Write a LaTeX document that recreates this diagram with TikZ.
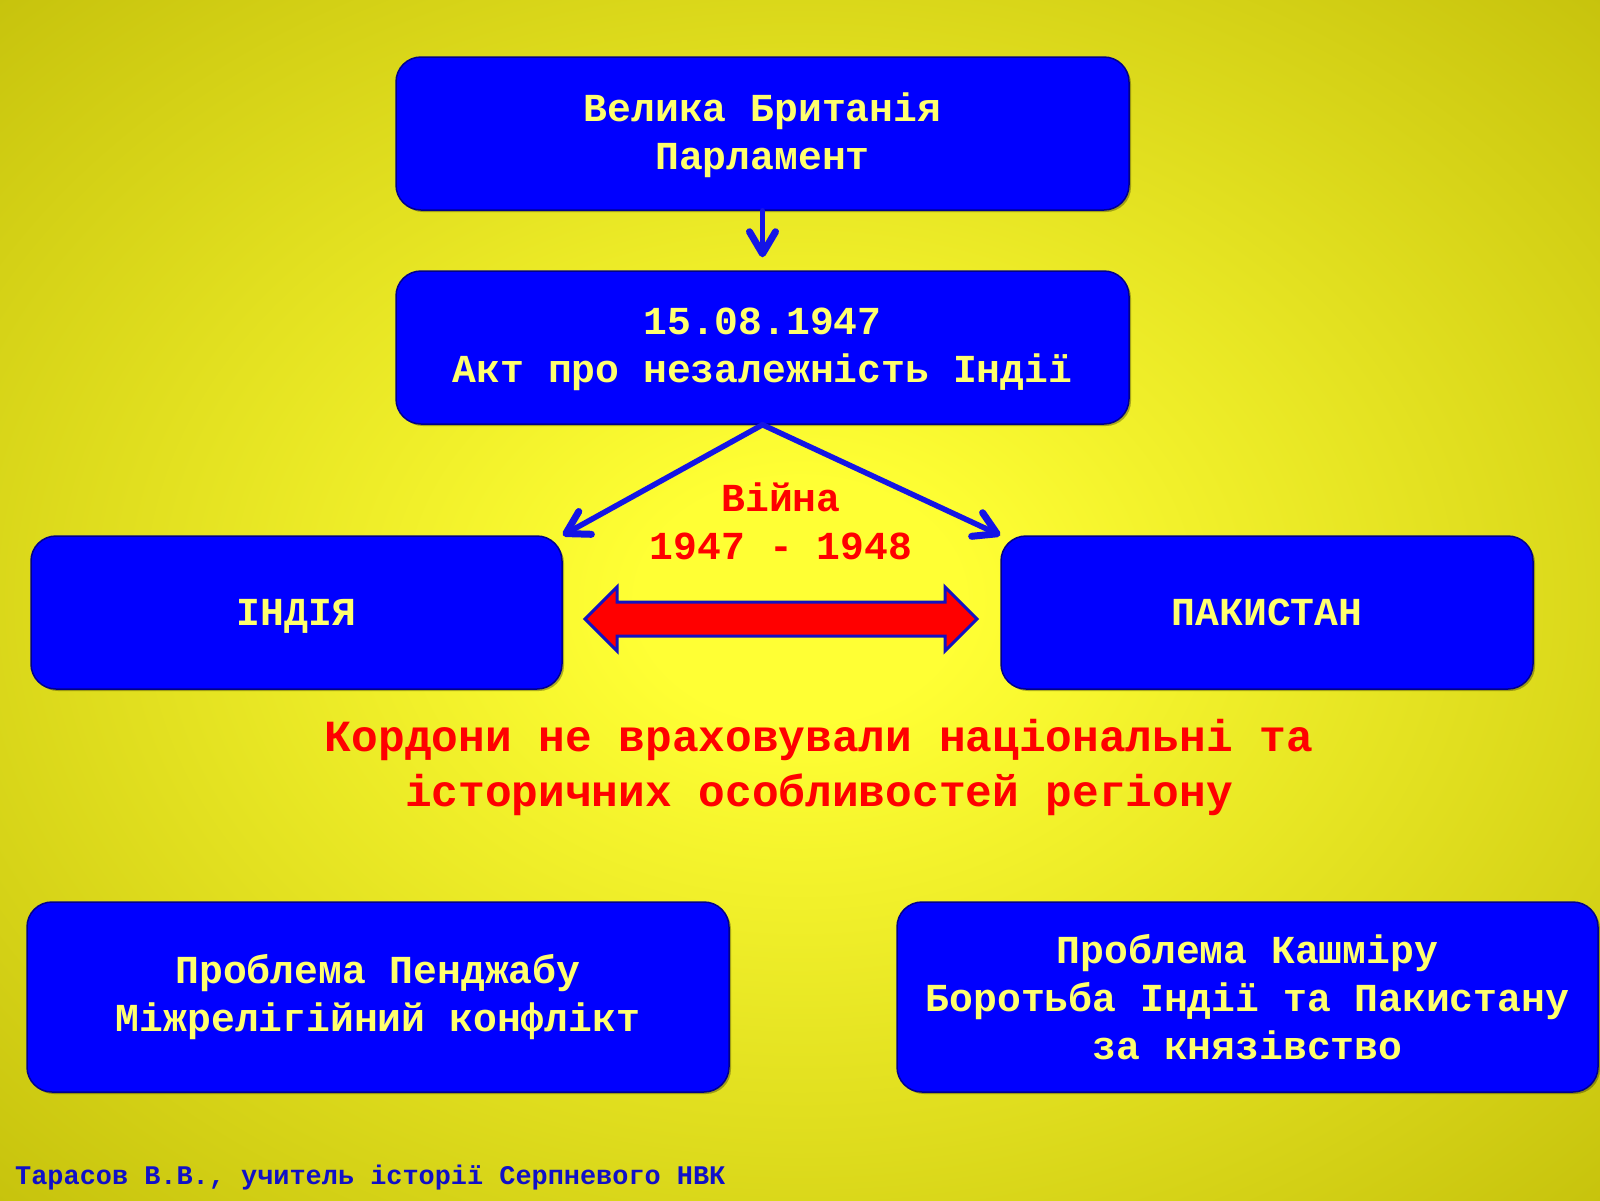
\documentclass[tikz,border=0pt]{standalone}
\usepackage{fontspec}
\setmainfont{Liberation Mono}
\usetikzlibrary{arrows.meta,shadows}
\definecolor{bgin}{RGB}{255,255,52}
\definecolor{bgout}{RGB}{198,194,12}
\definecolor{boxblue}{RGB}{0,0,255}
\definecolor{boxedge}{RGB}{0,0,140}
\definecolor{txtyellow}{RGB}{255,255,110}
\definecolor{connblue}{RGB}{20,20,230}
\definecolor{warred}{RGB}{255,0,0}
\definecolor{footblue}{RGB}{16,16,200}
\pgfdeclareradialshading{bgshade}{\pgfpoint{0bp}{0bp}}{color(0bp)=(bgin); color(5bp)=(bgin); color(36bp)=(bgout); color(50bp)=(bgout)}
\newcommand\boxfont{\fontsize{39.7}{48}\selectfont\bfseries}
\newcommand\redfont{\fontsize{44.5}{55}\selectfont\bfseries}
\newcommand\footfont{\fontsize{26.9}{30}\selectfont\bfseries}
\tikzset{
  bluebox/.style={draw=boxedge, line width=1.5pt, fill=boxblue, rounded corners=25pt,
    text=txtyellow, font=\boxfont, align=center, inner sep=0pt,
    drop shadow={shadow xshift=2pt, shadow yshift=-2pt, opacity=0.3, fill=black}},
  conn/.style={draw=connblue, line width=5.5pt, line cap=round,
    -{Straight Barb[length=22pt,width=26pt,line width=7pt,line cap=round,line join=round]}},
  redtext/.style={text=warred, font=\redfont, align=center, inner sep=0pt},
}
\begin{document}
\begin{tikzpicture}[x=1pt,y=-1pt]
\useasboundingbox (0,0) rectangle (1600,1200);
\shade[shading=bgshade] (0,0) rectangle (1600,1200);

\node[bluebox, minimum width=733pt, minimum height=153pt] (gb) at (762.5,133.5) {};
\node[text=txtyellow, font=\boxfont, align=center, inner sep=0pt] at ([yshift=-2pt]gb.center)
  {Велика Британія\\Парламент};
\node[bluebox, minimum width=733pt, minimum height=153pt] (act) at (762.5,347.5) {};
\node[text=txtyellow, font=\boxfont, align=center, inner sep=0pt] at ([yshift=-2pt]act.center)
  {15.08.1947\\Акт про незалежність Індії};
\node[bluebox, minimum width=531pt, minimum height=153pt] (india) at (296.5,612.5) {};
\node[text=txtyellow, font=\boxfont, inner sep=0pt, anchor=base] at ([yshift=-13pt]india.center) {ІНДІЯ};
\node[bluebox, minimum width=532pt, minimum height=153pt] (pak) at (1267,612.5) {};
\node[text=txtyellow, font=\boxfont, inner sep=0pt, anchor=base] at ([yshift=-13pt]pak.center) {ПАКИСТАН};
\node[bluebox, minimum width=702pt, minimum height=190pt] (punjab) at (378,997)
  {Проблема Пенджабу\\Міжрелігійний конфлікт};
\node[bluebox, minimum width=701pt, minimum height=190pt] (kashmir) at (1247.5,997)
  {Проблема Кашміру\\Боротьба Індії та Пакистану\\за князівство};

\node[text=warred, font=\boxfont, align=center, inner sep=0pt] (war) at (781,521)
  {Війна\\1947 - 1948};
\node[redtext] (borders) at (819,767)
  {Кордони не враховували національні та\\історичних особливостей регіону};
\node[text=footblue, font=\footfont, anchor=west, inner sep=0pt] (author) at (15,1178)
  {Тарасов В.В., учитель історії Серпневого НВК};

\draw[conn] (gb.south) -- ([yshift=13pt]act.north);
\draw[conn] (act.south) -- (india.north east);
\draw[conn] (act.south) -- (pak.north west);

\coordinate (wl) at (585,619);
\coordinate (wr) at (977,619);
\draw[fill=warred, draw=connblue!85!black, line width=3pt, line join=miter]
  (wl) -- (617,587) -- (617,602) -- (945,602) -- (945,587) -- (wr)
  -- (945,651) -- (945,636) -- (617,636) -- (617,651) -- cycle;
\end{tikzpicture}
\end{document}
